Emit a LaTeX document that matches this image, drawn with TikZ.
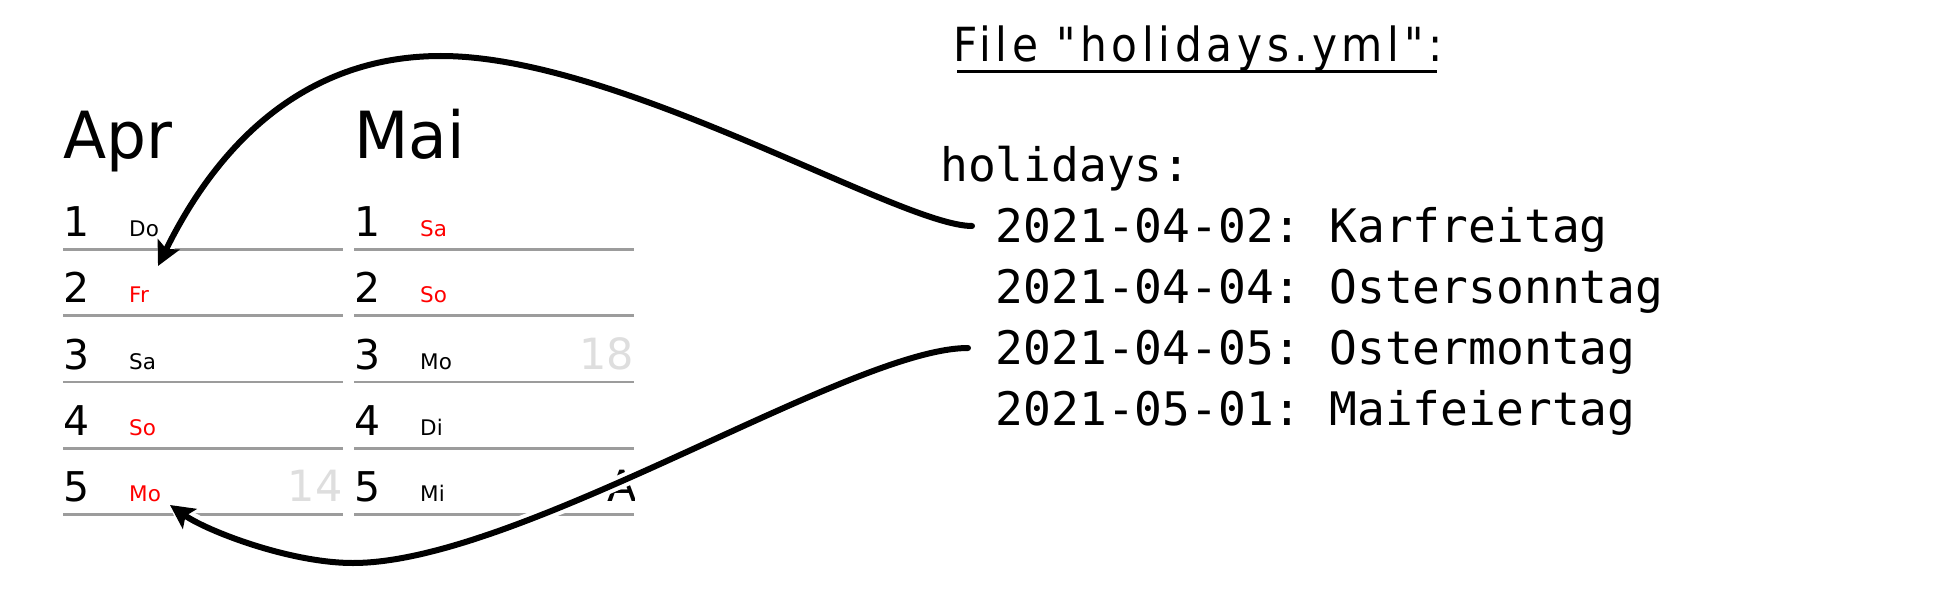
\documentclass[tikz,border=0pt]{standalone}
\usepackage{fontspec}
\setmainfont{DejaVu Sans}
\newfontfamily\calFont{DejaVu Sans}
\newfontfamily\monthFont[FakeStretch=0.97]{DejaVu Sans}
\newfontfamily\codeFont{DejaVu Sans Mono}
\newfontfamily\ttlFont[FakeStretch=0.9,LetterSpace=10]{DejaVu Sans}
\usetikzlibrary{arrows.meta}
\definecolor{calred}{RGB}{255,0,0}
\definecolor{weekgray}{RGB}{222,222,222}
\definecolor{linegray}{RGB}{156,156,156}
\tikzset{
  month/.style={anchor=base west, inner sep=0pt, font=\monthFont\fontsize{65}{65}\selectfont},
  daynum/.style={anchor=base west, inner sep=0pt, font=\calFont\fontsize{41}{41}\selectfont},
  dayname/.style={anchor=base west, inner sep=0pt, font=\calFont\fontsize{21.5}{21.5}\selectfont},
  holiday/.style={dayname, text=calred},
  weeknum/.style={anchor=base east, inner sep=0pt, text=weekgray, font=\calFont\fontsize{43}{43}\selectfont},
  cutlabel/.style={anchor=base west, inner sep=0pt, font=\calFont\fontsize{43}{43}\selectfont},
  rowline/.style={draw=linegray, line width=2.8pt},
  code/.style={anchor=base west, inner sep=0pt, font=\codeFont\fontsize{46.2}{46.2}\selectfont},
  filetitle/.style={anchor=base west, inner sep=0pt, font=\ttlFont\fontsize{47}{47}\selectfont},
  halo/.style={draw=white, line width=14pt, line cap=round},
  link/.style={draw=black, line width=6pt, line cap=round, -{Stealth[length=24pt,width=24pt,inset=5pt]}},
}
\begin{document}
\frenchspacing
\begin{tikzpicture}[x=1pt,y=-1pt]
\fill[white] (0,0) rectangle (1949,591);
\useasboundingbox (0,0) rectangle (1949,591);

% month headers
\node[month] (apr) at (63.5,158) {Apr};
\node[month] (mai) at (354,158) {Mai};

% row lines
\foreach \yy in {249.4,315.65,381.9,448.15,514.4} {
  \draw[rowline] (63.3,\yy) -- (342.7,\yy);
  \draw[rowline] (354,\yy) -- (634,\yy);
}

% April
\node[daynum] (a1n) at (63.5,236.7) {1};
\node[dayname] (a1d) at (129,236.7) {Do};
\node[daynum] (a2n) at (63.5,302.95) {2};
\node[holiday] (a2d) at (129,302.95) {Fr};
\node[daynum] (a3n) at (63.5,369.2) {3};
\node[dayname] (a3d) at (129,369.2) {Sa};
\node[daynum] (a4n) at (63.5,435.45) {4};
\node[holiday] (a4d) at (129,435.45) {So};
\node[daynum] (a5n) at (63.5,501.7) {5};
\node[holiday] (a5d) at (129,501.7) {Mo};
\node[weeknum] (a5w) at (342.7,501.7) {14};

% Mai
\node[daynum] (m1n) at (354,236.7) {1};
\node[holiday] (m1d) at (420,236.7) {Sa};
\node[daynum] (m2n) at (354,302.95) {2};
\node[holiday] (m2d) at (420,302.95) {So};
\node[daynum] (m3n) at (354,369.2) {3};
\node[dayname] (m3d) at (420,369.2) {Mo};
\node[weeknum] (m3w) at (634,369.2) {18};
\node[daynum] (m4n) at (354,435.45) {4};
\node[dayname] (m4d) at (420,435.45) {Di};
\node[daynum] (m5n) at (354,501.7) {5};
\node[dayname] (m5d) at (420,501.7) {Mi};
\begin{scope}
  \clip (600,450) rectangle (634,520);
  \node[cutlabel] (m5x) at (607.5,501.7) {A};
\end{scope}

% file content
\node[filetitle] (title) at (953,62) {File "holidays.yml":};
\draw[line width=2.6pt] ([xshift=4pt,yshift=-9.5pt]title.base west) -- ([xshift=-6pt,yshift=-9.5pt]title.base east);
\node[code] (key) at (940,182) {holidays:};
\node[code] (h1) at (995.6,242) {2021-04-02: Karfreitag};
\node[code] (h2) at (995.6,303) {2021-04-04: Ostersonntag};
\node[code] (h3) at (995.6,364) {2021-04-05: Ostermontag};
\node[code] (h4) at (995.6,425) {2021-05-01: Maifeiertag};

% connectors
\coordinate (s1) at (972,226);
\coordinate (p1) at (441,56);
\coordinate (t1) at (158,266);
\coordinate (s2) at (968,348);
\coordinate (p2) at (353,563);
\coordinate (t2) at (170,505);

\draw[halo, shorten >=12pt] (s1) .. controls (900,226) and (620,56) .. (p1) .. controls (300,56) and (215,150) .. (t1);
\draw[halo, shorten >=12pt] (s2) .. controls (850,348) and (520,563) .. (p2) .. controls (290,563) and (207,531) .. (t2);
\draw[link] (s1) .. controls (900,226) and (620,56) .. (p1) .. controls (300,56) and (215,150) .. (t1);
\draw[link] (s2) .. controls (850,348) and (520,563) .. (p2) .. controls (290,563) and (207,531) .. (t2);
\end{tikzpicture}
\end{document}
